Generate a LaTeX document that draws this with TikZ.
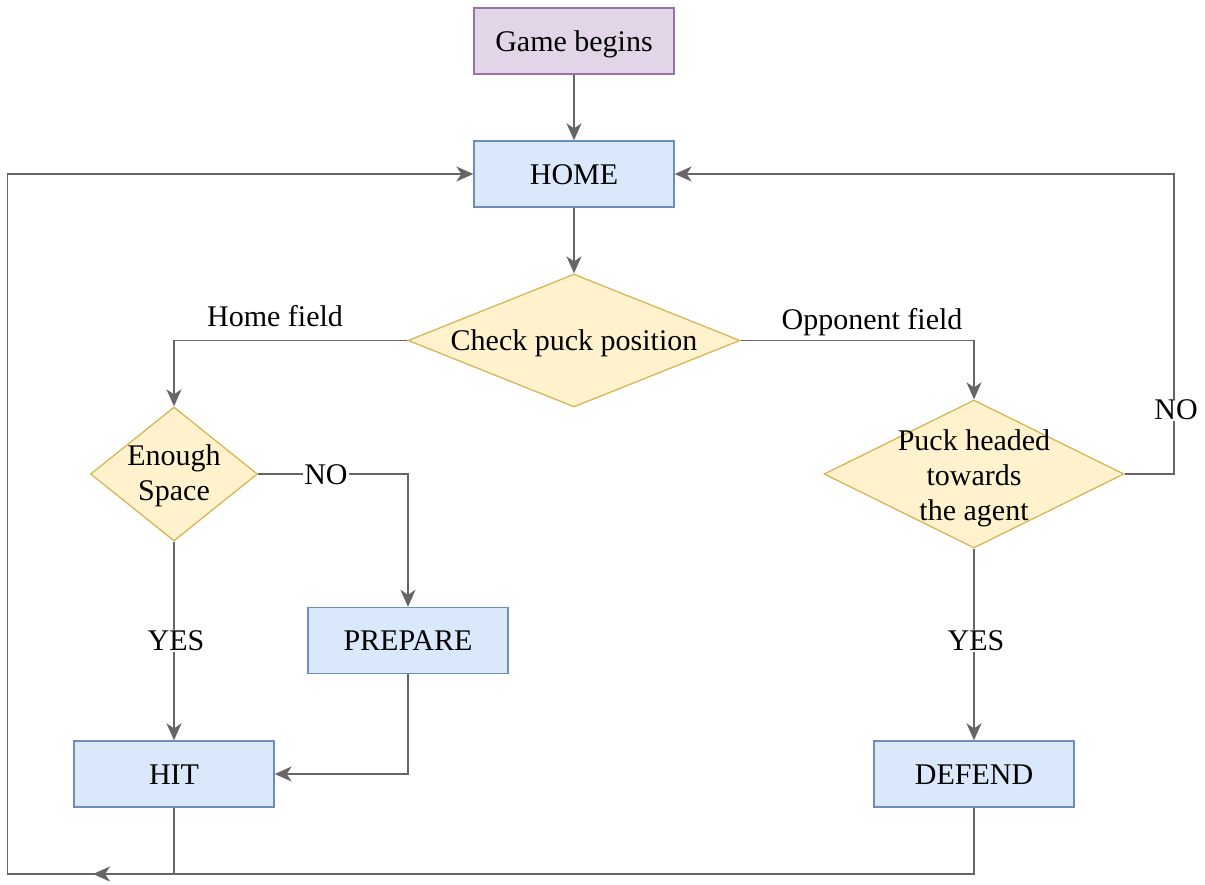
\documentclass[tikz,border=0pt]{standalone}
\usepackage{fontspec}
\setmainfont{Liberation Serif}
\usetikzlibrary{shapes.geometric,arrows.meta}
\definecolor{purpfill}{HTML}{E1D5E7}
\definecolor{purpline}{HTML}{9673A6}
\definecolor{bluefill}{HTML}{DAE8FC}
\definecolor{blueline}{HTML}{6C8EBF}
\definecolor{yelfill}{HTML}{FFF2CC}
\definecolor{yelline}{HTML}{D6B656}
\definecolor{edgegray}{HTML}{666666}
\tikzset{
  base/.style={font=\fontsize{30}{35}\selectfont, inner sep=0pt},
  boxtext/.style={base, text height=20pt, text depth=0pt},
  startbox/.style={boxtext, draw=purpline, fill=purpfill, line width=1.3pt,
    minimum width=200pt, minimum height=66pt},
  procbox/.style={boxtext, draw=blueline, fill=bluefill, line width=1.3pt,
    minimum width=200pt, minimum height=66pt},
  decision/.style={diamond, draw=yelline, fill=yelfill, line width=1.3pt, inner sep=0pt},
  dtext/.style={base, align=center},
  flow/.style={draw=edgegray, line width=1.6pt,
    -{Stealth[length=17pt, width=15pt, inset=5pt]}},
  elabel/.style={base, fill=white, inner sep=1pt},
  tlabel/.style={base},
}
\begin{document}
\begin{tikzpicture}[x=1pt, y=-1pt]
\useasboundingbox (0,0) rectangle (1205,884);

% process boxes
\node[startbox] (start) at (574,41) {Game begins};
\node[procbox] (home) at (574,174) {HOME};
\node[procbox] (prep) at (408,640.5) {PREPARE};
\node[procbox] (hit) at (174,774) {HIT};
\node[procbox] (def) at (974,774) {DEFEND};

% decisions
\node[decision, minimum width=332pt, minimum height=133pt] (chk) at (574,340.5) {};
\node[boxtext] (chkt) at (chk) {Check puck position};
\node[decision, minimum width=167pt, minimum height=134pt] (space) at (174,474) {};
\node[dtext] (spacet) at (174,476) {Enough\\Space};
\node[decision, minimum width=300pt, minimum height=148pt] (puck) at (974,474) {};
\node[dtext] (puckt) at (974,478) {Puck headed\\towards\\the agent};

% free end of the HIT return line
\coordinate (hitend) at (93,874);

% connectors
\draw[flow] (start) -- (home);
\draw[flow] (home) -- (chk);
\draw[flow] (chk.west) -| (space.north);
\node[tlabel] (lhome) at (275,316) {Home field};
\draw[flow] (chk.east) -| (puck.north);
\node[tlabel] (lopp) at (872,322) {Opponent field};
\draw[flow] (space.east) -| (prep.north);
\node[elabel] (lno1) at (326,475) {NO};
\draw[flow] (space.south) -- (hit.north);
\node[elabel] (lyes1) at (176,641) {YES};
\draw[flow] (prep.south) |- (hit.east);
\draw[flow] (puck.east) -- (1174,474) |- (home.east);
\node[elabel] (lno2) at (1176,410) {NO};
\draw[flow] (puck.south) -- (def.north);
\node[elabel] (lyes2) at (976,641) {YES};
\draw[flow] (hit.south) |- (hitend);
\draw[flow] (def.south) |- (7.5,874) |- (home.west);

\end{tikzpicture}
\end{document}
